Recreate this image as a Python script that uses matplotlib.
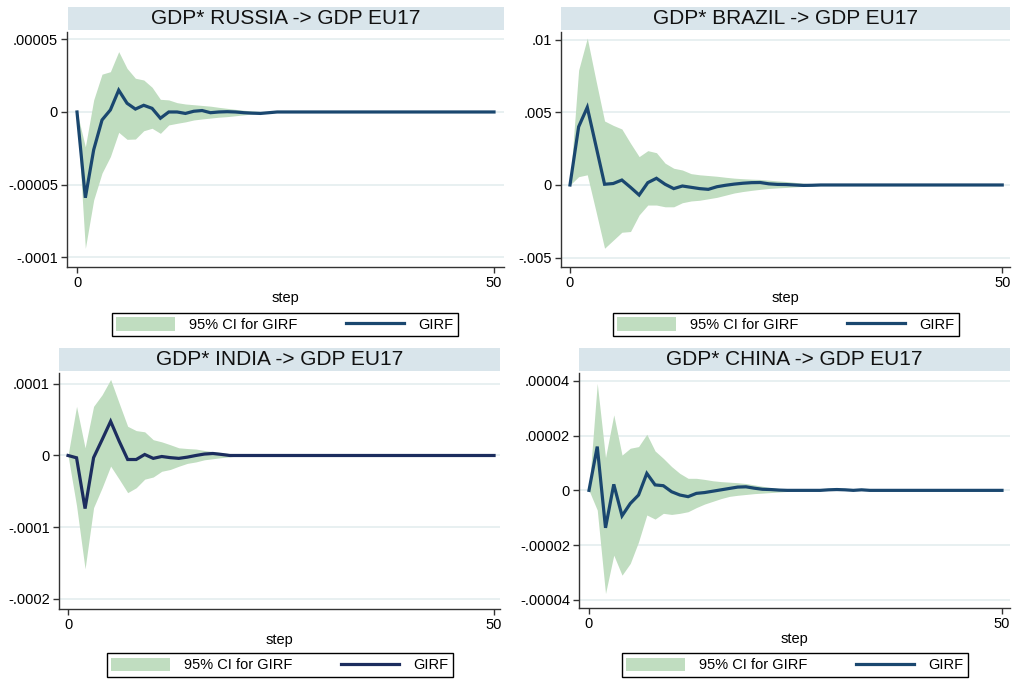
import numpy as np
import matplotlib
matplotlib.use("Agg")
import matplotlib.pyplot as plt
from matplotlib.patches import Rectangle, Patch
from matplotlib.lines import Line2D

plt.rcParams['font.family'] = ['Liberation Sans', 'DejaVu Sans']

# ---------------------------------------------------------------- data
steps = np.arange(51)

# GDP* RUSSIA -> GDP EU17 (units of 1e-5)
russia_girf = [0, -5.9, -2.6, -0.55, 0.14, 1.5, 0.6, 0.2, 0.46, 0.25,
               -0.43, 0.0, 0.0, -0.1, 0.05, 0.1, -0.05, 0.0, 0.02, 0.0,
               -0.05, -0.08, -0.1, -0.05, 0, 0, 0, 0, 0, 0,
               0, 0, 0, 0, 0, 0, 0, 0, 0, 0,
               0, 0, 0, 0, 0, 0, 0, 0, 0, 0,
               0]
russia_hi = [0, -2.4, 0.83, 2.6, 2.77, 4.15, 3.0, 2.32, 2.2, 1.7,
             0.87, 0.83, 0.64, 0.55, 0.5, 0.45, 0.4, 0.32, 0.25, 0.18,
             0.12, 0.07, 0.03, 0.01, 0, 0, 0, 0, 0, 0,
             0, 0, 0, 0, 0, 0, 0, 0, 0, 0,
             0, 0, 0, 0, 0, 0, 0, 0, 0, 0,
             0]
russia_lo = [0, -9.38, -6.05, -4.2, -3.07, -1.4, -1.88, -1.86, -1.29, -1.12,
             -1.47, -0.89, -0.78, -0.68, -0.55, -0.48, -0.42, -0.36, -0.32, -0.26,
             -0.2, -0.14, -0.08, -0.03, 0, 0, 0, 0, 0, 0,
             0, 0, 0, 0, 0, 0, 0, 0, 0, 0,
             0, 0, 0, 0, 0, 0, 0, 0, 0, 0,
             0]

# GDP* BRAZIL -> GDP EU17 (units of 1e-3)
brazil_girf = [0, 4.0, 5.34, 2.7, 0.05, 0.1, 0.34, -0.16, -0.69, 0.16,
               0.46, 0.05, -0.25, -0.07, -0.16, -0.25, -0.3, -0.12, -0.02, 0.06,
               0.12, 0.16, 0.17, 0.08, 0.04, 0.03, 0.0, -0.03, -0.02, 0,
               0, 0, 0, 0, 0, 0, 0, 0, 0, 0,
               0, 0, 0, 0, 0, 0, 0, 0, 0, 0,
               0]
brazil_hi = [0, 7.9, 10.1, 7.2, 4.4, 4.1, 3.85, 2.87, 1.95, 2.36,
             2.22, 1.5, 1.15, 1.03, 0.78, 0.7, 0.65, 0.6, 0.53, 0.47,
             0.43, 0.4, 0.38, 0.33, 0.28, 0.24, 0.18, 0.12, 0.07, 0.03,
             0, 0, 0, 0, 0, 0, 0, 0, 0, 0,
             0, 0, 0, 0, 0, 0, 0, 0, 0, 0,
             0]
brazil_lo = [0, 0.57, 0.7, -1.8, -4.35, -3.8, -3.25, -3.2, -2.06, -1.38,
             -1.38, -1.5, -1.5, -1.22, -1.1, -1.05, -0.95, -0.85, -0.7, -0.55,
             -0.45, -0.37, -0.3, -0.24, -0.2, -0.17, -0.13, -0.1, -0.06, -0.03,
             0, 0, 0, 0, 0, 0, 0, 0, 0, 0,
             0, 0, 0, 0, 0, 0, 0, 0, 0, 0,
             0]

# GDP* INDIA -> GDP EU17 (units of 1e-5)
india_girf = [0, -0.32, -7.4, -0.3, 2.2, 4.76, 2.0, -0.56, -0.56, 0.14,
              -0.4, -0.14, -0.3, -0.4, -0.23, 0.0, 0.2, 0.28, 0.15, 0.0,
              0, 0, 0, 0, 0, 0, 0, 0, 0, 0,
              0, 0, 0, 0, 0, 0, 0, 0, 0, 0,
              0, 0, 0, 0, 0, 0, 0, 0, 0, 0,
              0]
india_hi = [0, 6.85, 1.07, 6.85, 8.47, 10.6, 7.3, 4.07, 3.47, 3.3,
            2.2, 1.9, 1.5, 1.07, 0.97, 0.9, 0.7, 0.55, 0.4, 0.25,
            0.15, 0.07, 0.02, 0, 0, 0, 0, 0, 0, 0,
            0, 0, 0, 0, 0, 0, 0, 0, 0, 0,
            0, 0, 0, 0, 0, 0, 0, 0, 0, 0,
            0]
india_lo = [0, -7.0, -15.8, -7.27, -4.5, -1.48, -3.3, -5.18, -4.5, -3.3,
            -3.0, -2.2, -1.95, -1.5, -1.1, -0.9, -0.6, -0.45, -0.3, -0.18,
            -0.08, -0.03, 0, 0, 0, 0, 0, 0, 0, 0,
            0, 0, 0, 0, 0, 0, 0, 0, 0, 0,
            0, 0, 0, 0, 0, 0, 0, 0, 0, 0,
            0]

# GDP* CHINA -> GDP EU17 (units of 1e-5)
china_girf = [0, 1.6, -1.37, 0.22, -0.93, -0.48, -0.17, 0.62, 0.2, 0.17,
              -0.05, -0.17, -0.23, -0.11, -0.08, -0.03, 0.02, 0.07, 0.12, 0.13,
              0.08, 0.04, 0.03, 0.01, 0, 0, 0, 0, 0, 0.02,
              0.03, 0.02, 0.0, 0.02, 0, 0, 0, 0, 0, 0,
              0, 0, 0, 0, 0, 0, 0, 0, 0, 0,
              0]
china_hi = [0, 3.91, 1.2, 2.76, 1.29, 1.54, 1.6, 2.05, 1.44, 1.17,
            0.87, 0.62, 0.44, 0.44, 0.4, 0.35, 0.32, 0.3, 0.28, 0.25,
            0.2, 0.15, 0.1, 0.07, 0.04, 0.02, 0, 0, 0, 0,
            0, 0, 0, 0, 0, 0, 0, 0, 0, 0,
            0, 0, 0, 0, 0, 0, 0, 0, 0, 0,
            0]
china_lo = [0, -0.72, -3.77, -2.37, -3.1, -2.67, -1.88, -0.9, -1.05, -0.84,
            -0.88, -0.84, -0.78, -0.63, -0.5, -0.4, -0.3, -0.22, -0.18, -0.15,
            -0.12, -0.1, -0.08, -0.06, -0.04, -0.02, 0, 0, 0, 0,
            0, 0, 0, 0, 0, 0, 0, 0, 0, 0,
            0, 0, 0, 0, 0, 0, 0, 0, 0, 0,
            0]

titles = ["GDP* RUSSIA -> GDP EU17", "GDP* BRAZIL -> GDP EU17",
          "GDP* INDIA -> GDP EU17", "GDP* CHINA -> GDP EU17"]
units = [1e-5, 1e-3, 1e-5, 1e-5]
yticks = [[5e-5, 0, -5e-5, -1e-4],
          [0.01, 0.005, 0, -0.005],
          [1e-4, 0, -1e-4, -2e-4],
          [4e-5, 2e-5, 0, -2e-5, -4e-5]]
ytick_labels = [[".00005", "0", "-.00005", "-.0001"],
                [".01", ".005", "0", "-.005"],
                [".0001", "0", "-.0001", "-.0002"],
                [".00004", ".00002", "0", "-.00002", "-.00004"]]
xticks = [0, 50]
xtick_labels = ["0", "50"]
legend_labels = ["95% CI for GIRF", "GIRF"]

# ---------------------------------------------------------------- layout
W, H = 1016, 681
DPI = 100


def fig_rect(l, t, r, b):
    return [l / W, 1 - b / H, (r - l) / W, (b - t) / H]


layout = [
    dict(axes=(67, 32, 504, 267), xlim=(-1.2, 51.2), ylim=(-0.0001066, 0.000055),
         title=(68, 7, 504, 30), legend=(112, 312, 458, 337), color="#1a476f"),
    dict(axes=(561, 32, 1010, 267), xlim=(-1.04, 50.9), ylim=(-0.00564, 0.01052),
         title=(561, 7, 1010, 30), legend=(613, 312, 959, 337), color="#1a476f"),
    dict(axes=(59, 373, 500, 609), xlim=(-1.06, 50.7), ylim=(-0.000214, 0.000115),
         title=(59, 348, 500, 371), legend=(107, 652, 453, 678), color="#1c2d5e"),
    dict(axes=(579, 373, 1010, 608), xlim=(-1.21, 50.97), ylim=(-0.000043, 0.0000429),
         title=(579, 348, 1010, 371), legend=(622, 652, 968, 678), color="#1a476f"),
]

series = [(russia_girf, russia_lo, russia_hi),
          (brazil_girf, brazil_lo, brazil_hi),
          (india_girf, india_lo, india_hi),
          (china_girf, china_lo, china_hi)]

CI_COLOR = "#c0ddc0"
GRID_COLOR = "#e8f0f1"
TITLE_BG = "#d9e5eb"
AXIS_COLOR = "#333333"

fig = plt.figure(figsize=(W / DPI, H / DPI), dpi=DPI)
fig.patch.set_facecolor("white")

for i, lay in enumerate(layout):
    girf, lo, hi = (np.asarray(s, dtype=float) * units[i] for s in series[i])
    ax = fig.add_axes(fig_rect(*lay["axes"]))

    ax.fill_between(steps, lo, hi, color=CI_COLOR, linewidth=0, zorder=2)
    ax.plot(steps, girf, color=lay["color"], lw=2.3, solid_joinstyle="miter",
            zorder=3)

    ax.set_xlim(*lay["xlim"])
    ax.set_ylim(*lay["ylim"])
    ax.set_xticks(xticks)
    ax.set_xticklabels(xtick_labels)
    ax.set_yticks(yticks[i])
    ax.set_yticklabels(ytick_labels[i])
    ax.yaxis.grid(True, color=GRID_COLOR, lw=1.4, zorder=0)
    ax.set_axisbelow(True)

    for side in ("top", "right"):
        ax.spines[side].set_visible(False)
    for side in ("left", "bottom"):
        ax.spines[side].set_color(AXIS_COLOR)
        ax.spines[side].set_linewidth(1.0)
    ax.tick_params(axis="both", direction="out", length=4.5, width=1.0,
                   color=AXIS_COLOR, labelsize=10.5, pad=2)
    ax.set_xlabel("step", fontsize=10.5, labelpad=1)

    # title band above the plot region
    tl, tt, tr, tb = lay["title"]
    fx, fy, fw, fh = fig_rect(tl, tt, tr, tb)
    fig.add_artist(Rectangle((fx, fy), fw, fh, transform=fig.transFigure,
                             facecolor=TITLE_BG, edgecolor="none"))
    fig.text(fx + fw / 2, fy + fh / 2, titles[i], ha="center", va="center",
             fontsize=15, color="#111111")

    # legend box below the plot
    handles = [Patch(facecolor=CI_COLOR, edgecolor="none"),
               Line2D([], [], color=lay["color"], lw=2.3)]
    lx, ly, lw_, lh = fig_rect(*lay["legend"])
    leg = ax.legend(handles, legend_labels, loc="center",
                    bbox_to_anchor=(lx, ly, lw_, lh),
                    bbox_transform=fig.transFigure, mode="expand", ncol=2,
                    frameon=True, fancybox=False, edgecolor="black",
                    framealpha=1, fontsize=10.5, handlelength=4.0,
                    handleheight=1.05, handletextpad=1.0, borderpad=0.3,
                    borderaxespad=0, columnspacing=2.0)
    leg.get_frame().set_linewidth(1.0)

fig.savefig("out.png", dpi=DPI, facecolor="white")
